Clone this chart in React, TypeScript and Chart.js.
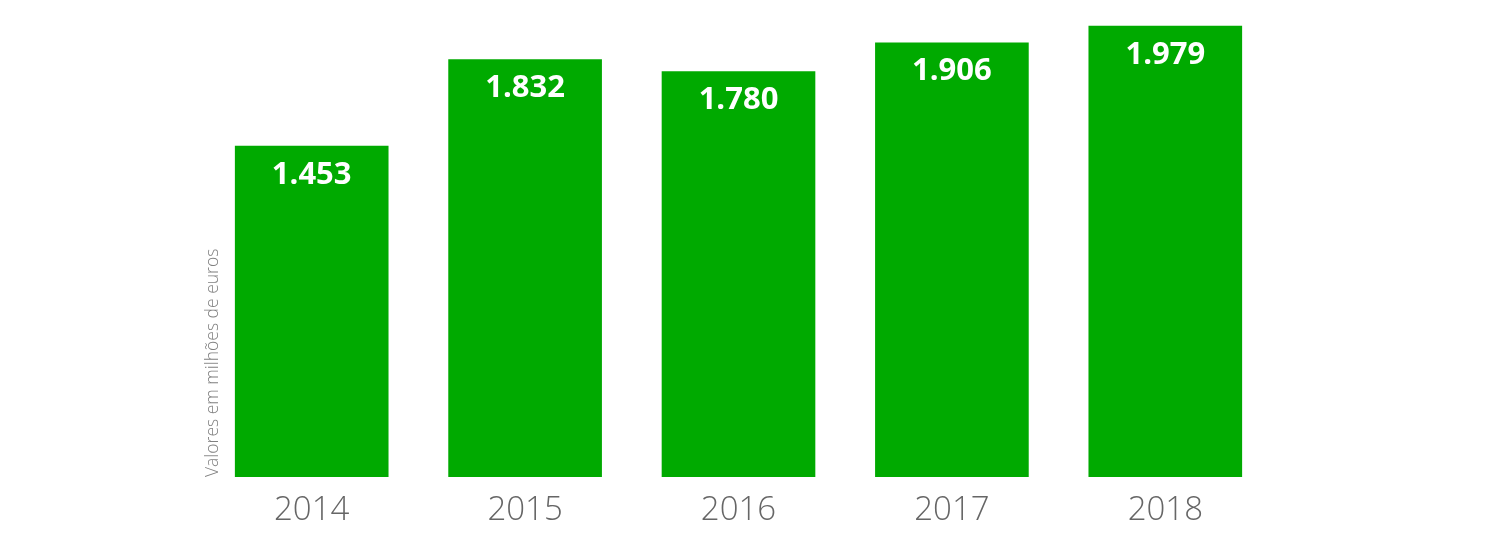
import React, { useEffect, useRef } from "react";
import { Chart, registerables } from "chart.js";

Chart.register(...registerables);

const categories = ["2014", "2015", "2016", "2017", "2018"];
const values = [1453, 1832, 1780, 1906, 1979];
const axisTitle = "Valores em milhões de euros";
const barColor = "#00AA00";

const fmt = (v: number) =>
  Math.floor(v / 1000) + "." + String(v % 1000).padStart(3, "0");

const labelPlugin = {
  id: "valueLabels",
  afterDatasetsDraw(chart: any) {
    const ctx = chart.ctx;
    const meta = chart.getDatasetMeta(0);
    ctx.save();
    ctx.fillStyle = "#ffffff";
    ctx.font = "bold 31px 'Open Sans'";
    ctx.textAlign = "center";
    ctx.textBaseline = "middle";
    meta.data.forEach((bar: any, i: number) => {
      ctx.fillText(fmt(values[i]), bar.x, bar.y + 29);
    });
    ctx.restore();
  },
};

const titlePlugin = {
  id: "sideTitle",
  afterDraw(chart: any) {
    const ctx = chart.ctx;
    const area = chart.chartArea;
    ctx.save();
    ctx.translate(area.left + 8, area.bottom);
    ctx.rotate(-Math.PI / 2);
    ctx.fillStyle = "#808080";
    ctx.font = "300 17.5px 'Open Sans'";
    ctx.textAlign = "left";
    ctx.textBaseline = "middle";
    ctx.fillText(axisTitle, 0, 0);
    ctx.restore();
  },
};

export default function App() {
  const ref = useRef<HTMLCanvasElement>(null);
  useEffect(() => {
    document.body.style.margin = "0";
    const chart = new Chart(ref.current!, {
      type: "bar",
      data: {
        labels: categories,
        datasets: [
          {
            data: values,
            backgroundColor: barColor,
            barPercentage: 0.72,
            categoryPercentage: 1,
          },
        ],
      },
      options: {
        animation: false,
        responsive: false,
        layout: { padding: { left: 205, right: 228, top: 21, bottom: 0 } },
        plugins: { legend: { display: false }, tooltip: { enabled: false } },
        scales: {
          x: {
            grid: { display: false },
            border: { display: false },
            ticks: {
              color: "#666666",
              font: { family: "'Open Sans'", size: 33, weight: "300" as any },
              padding: 6,
            },
            afterFit(s: any) {
              s.height = 59;
            },
          },
          y: { display: false, min: 0, max: 2000 },
        },
      },
      plugins: [labelPlugin, titlePlugin],
    });
    return () => chart.destroy();
  }, []);
  return (
    <div style={{ width: 1500, height: 536 }}>
      <canvas ref={ref} width={1500} height={536} />
    </div>
  );
}
